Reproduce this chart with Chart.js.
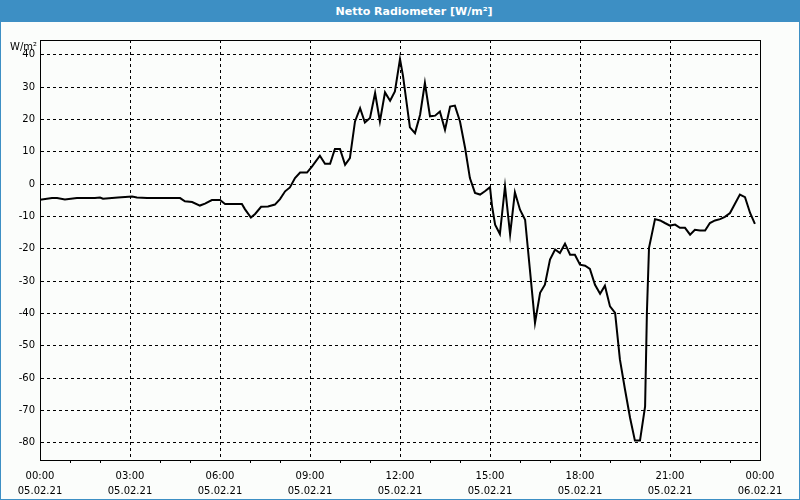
<!DOCTYPE html>
<html>
<head>
<meta charset="utf-8">
<script src="https://cdn.jsdelivr.net/npm/chart.js@4/dist/chart.umd.min.js"></script>
<style>
  html, body { margin: 0; padding: 0; background: #fbfdfb; }
  #wrap { position: relative; width: 800px; height: 500px; box-sizing: border-box; border: 1px solid #3d8fc4; background: #fbfdfb; overflow: hidden; }
  #title { position: absolute; left: 0; top: 0; width: 798px; height: 21px; background: #3d8fc4; color: #fff;
           font: bold 11px "DejaVu Sans", sans-serif; line-height: 21px; text-align: center; }
  #title span { position: relative; left: 14px; }
  canvas { position: absolute; left: -1px; top: -1px; }
</style>
</head>
<body>
<div id="wrap">
  <canvas id="c" width="800" height="500"></canvas>
  <div id="title"><span>Netto Radiometer [W/m²]</span></div>
</div>
<script>
// time of day in hours (05.02.21)
const hours = [0.00,0.40,0.57,0.83,1.23,1.83,2.00,2.10,2.60,3.07,3.23,3.57,4.67,4.83,5.07,5.33,5.50,5.73,6.00,6.17,6.73,6.83,7.03,7.17,7.37,7.60,7.83,8.00,8.17,8.33,8.50,8.67,8.90,9.07,9.33,9.50,9.67,9.83,10.00,10.17,10.33,10.50,10.67,10.83,11.00,11.17,11.33,11.50,11.67,11.83,12.00,12.10,12.33,12.50,12.67,12.83,13.00,13.17,13.33,13.50,13.67,13.83,14.00,14.17,14.33,14.50,14.67,14.83,15.00,15.07,15.17,15.33,15.50,15.67,15.83,16.00,16.17,16.33,16.50,16.67,16.83,17.00,17.17,17.33,17.50,17.67,17.83,18.00,18.17,18.33,18.50,18.67,18.83,19.00,19.17,19.33,19.50,19.67,19.83,20.00,20.17,20.23,20.30,20.50,20.67,20.83,21.00,21.17,21.33,21.50,21.67,21.83,22.00,22.17,22.33,22.50,22.67,22.83,23.00,23.17,23.33,23.50,23.67,23.83];
// net radiation W/m²
const netRad = [-4.8,-4.3,-4.3,-4.7,-4.3,-4.3,-4.1,-4.5,-4.1,-3.8,-4.1,-4.3,-4.3,-5.3,-5.5,-6.6,-6.0,-4.9,-4.9,-6.1,-6.1,-7.7,-10.3,-9.2,-7.0,-6.9,-6.3,-4.6,-2.2,-1.0,1.9,3.6,3.6,5.5,8.8,6.3,6.3,10.9,10.9,6.0,8.1,19.4,23.5,19.1,20.5,28.2,19.4,28.4,25.8,28.7,38.7,33.5,17.6,15.8,21.5,31.3,21.0,21.2,22.5,16.8,24.0,24.3,19.4,11.2,1.9,-2.7,-3.2,-2.2,-0.9,-6.9,-12.5,-15.4,-0.7,-15.5,-2.5,-7.9,-11.0,-26.4,-42.9,-33.6,-31.1,-23.3,-20.2,-21.3,-18.4,-21.8,-21.8,-24.9,-25.2,-26.2,-31.1,-33.9,-31.4,-37.8,-39.8,-54.2,-63.5,-72.3,-79.3,-79.3,-68.7,-39.8,-19.7,-10.8,-11.2,-12.0,-12.8,-12.5,-13.5,-13.5,-15.6,-14.1,-14.3,-14.3,-12.0,-11.2,-10.8,-10.1,-8.9,-6.0,-3.2,-4.0,-8.9,-12.3];
const yTicks = [40,30,20,10,0,-10,-20,-30,-40,-50,-60,-70,-80];
const xTickHours = [0,3,6,9,12,15,18,21,24];
const xTickTimes = ['00:00','03:00','06:00','09:00','12:00','15:00','18:00','21:00','00:00'];
const xTickDates = ['05.02.21','05.02.21','05.02.21','05.02.21','05.02.21','05.02.21','05.02.21','05.02.21','06.02.21'];
const unitLabel = 'W/m²';

const FONT = { family: '"DejaVu Sans", sans-serif', size: 10, lineHeight: 1.5 };

const frame = {
  id: 'frame',
  afterDraw(chart) {
    const { ctx, chartArea: a } = chart;
    ctx.save();
    ctx.strokeStyle = '#000';
    ctx.lineWidth = 1;
    ctx.strokeRect(Math.round(a.left) + 0.5, Math.round(a.top) + 0.5, Math.round(a.right - a.left), Math.round(a.bottom - a.top));
    ctx.fillStyle = '#000';
    ctx.font = '10px "DejaVu Sans", sans-serif';
    ctx.textAlign = 'right';
    ctx.textBaseline = 'middle';
    ctx.fillText(unitLabel, a.left - 3, a.top + 7);
    ctx.restore();
  }
};

new Chart(document.getElementById('c'), {
  type: 'line',
  data: {
    datasets: [{
      data: hours.map((h, i) => ({ x: h, y: netRad[i] })),
      borderColor: '#000',
      borderWidth: 2,
      pointRadius: 0,
      tension: 0,
      fill: false
    }]
  },
  options: {
    responsive: false,
    animation: false,
    events: [],
    layout: { padding: { left: 0, top: 40, right: 40, bottom: 0 } },
    plugins: { legend: { display: false }, title: { display: false }, tooltip: { enabled: false } },
    scales: {
      x: {
        type: 'linear',
        min: 0, max: 24,
        afterBuildTicks: s => { s.ticks = Array.from({ length: 25 }, (_, i) => ({ value: i })); },
        afterFit: s => { s.height = 40; },
        ticks: {
          autoSkip: false, maxRotation: 0, padding: 6, color: '#000', font: FONT,
          callback: v => {
            const k = xTickHours.indexOf(v);
            return k >= 0 ? [xTickTimes[k], xTickDates[k]] : '';
          }
        },
        grid: {
          color: c => (c.tick && c.tick.value % 3 === 0) ? '#000' : 'rgba(0,0,0,0)',
          tickColor: c => (c.tick && c.tick.value % 3 === 0) ? 'rgba(0,0,0,0)' : '#000',
          tickLength: 3,
          lineWidth: 1
        },
        border: { display: true, color: '#000', width: 1, dash: [3, 3] }
      },
      y: {
        min: -85.3, max: 44.6,
        afterBuildTicks: s => { s.ticks = yTicks.map(v => ({ value: v })); },
        afterFit: s => { s.width = 40; },
        ticks: { padding: 5, color: '#000', font: FONT },
        grid: { color: '#000', drawTicks: false, lineWidth: 1 },
        border: { display: true, color: '#000', width: 1, dash: [3, 3] }
      }
    }
  },
  plugins: [frame]
});
</script>
</body>
</html>
